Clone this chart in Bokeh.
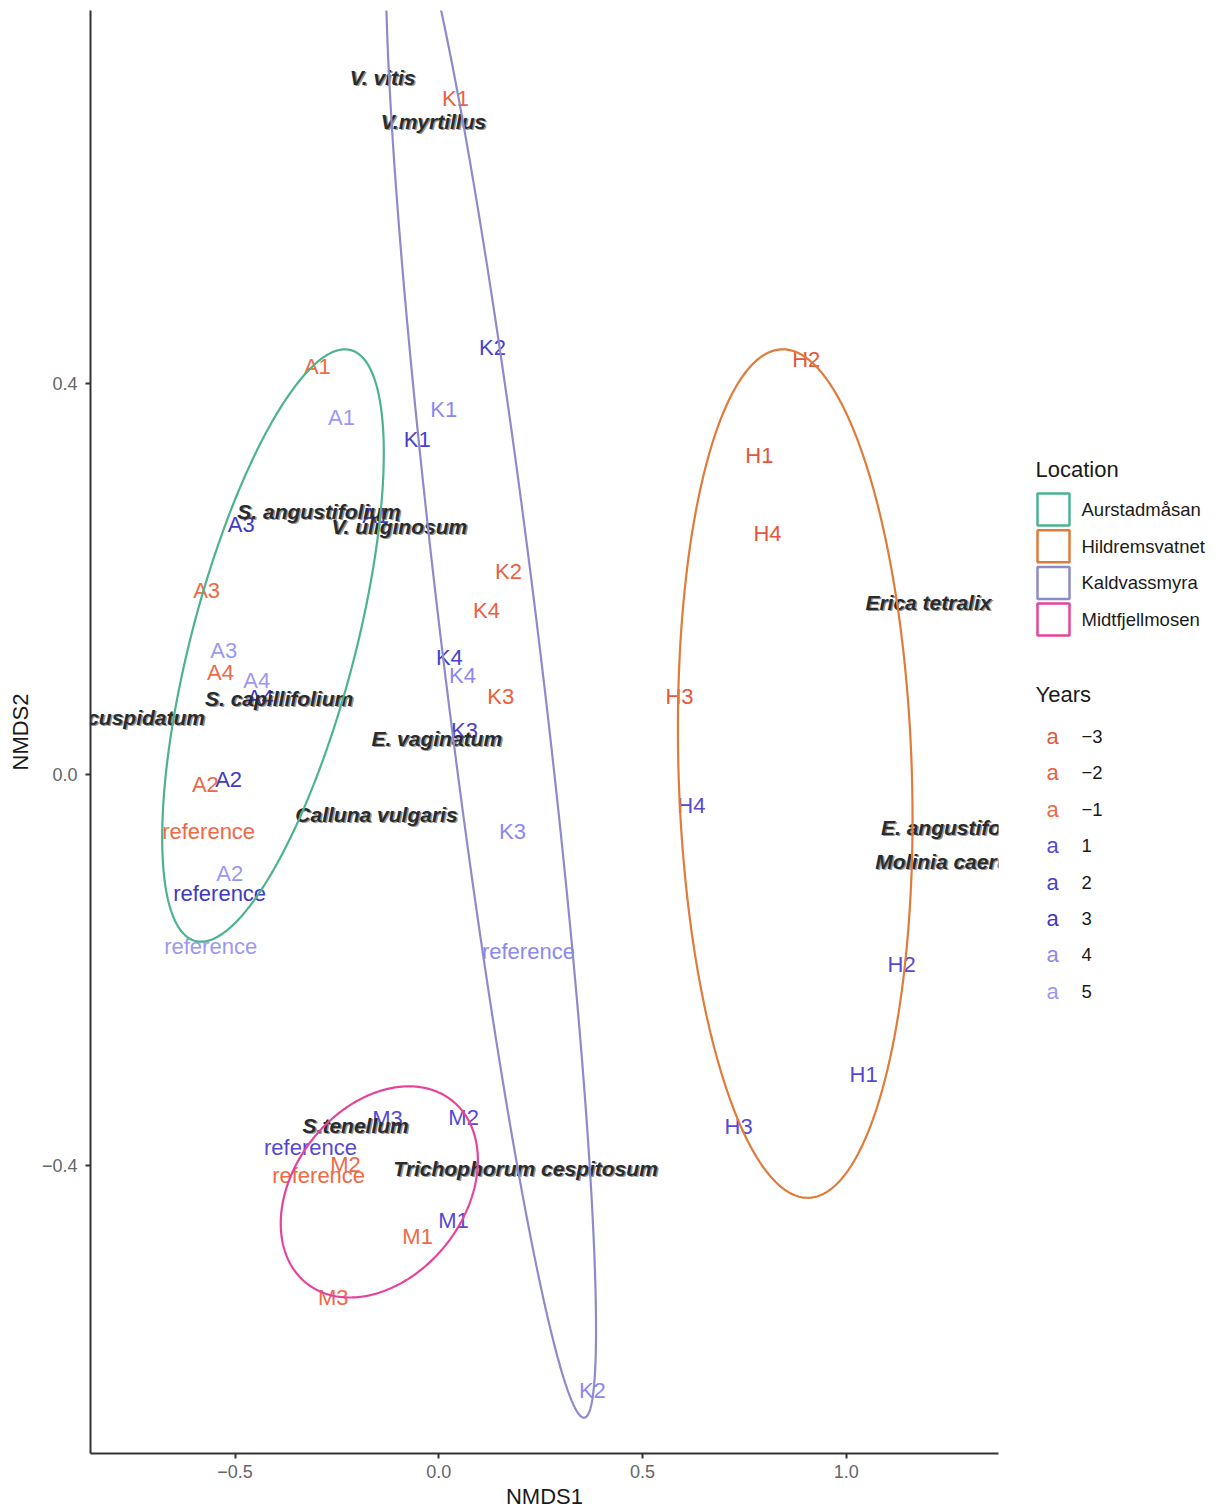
import numpy as np
from bokeh.plotting import figure
from bokeh.models import ColumnDataSource, FixedTicker, CustomJSTickFormatter, Range1d
from bokeh.layouts import row
from bokeh.core.properties import value
from bokeh.embed import file_html
from bokeh.resources import INLINE

FONT = "Liberation Sans"

# ---- site scores (NMDS1, NMDS2), labelled by plot, coloured by year ----
site_label = ["A1", "A1", "A1", "A3", "A3", "A3", "A4", "A4", "A4", "A2", "A2", "A2",
              "reference", "reference", "reference",
              "K1", "K1", "K1", "K2", "K2", "K2", "K4", "K4", "K4", "K3", "K3", "K3", "reference",
              "H2", "H1", "H4", "H3", "H4", "H2", "H1", "H3",
              "M2", "M3", "reference", "M2", "reference", "M1", "M1", "M3"]
site_year = [-1, 5, 3, 3, -1, 5, -1, 5, 3, -1, 3, 5, -1, 3, 5,
             -2, 4, 2, 2, -2, 4, -2, 2, 4, -2, 2, 4, 4,
             -3, -3, -3, -3, 1, 1, 1, 1,
             1, 1, 1, -1, -1, 1, -1, -1]
site_x = [-0.298, -0.239, -0.155, -0.485, -0.570, -0.528, -0.536, -0.447, -0.438, -0.573, -0.516, -0.513,
          -0.565, -0.538, -0.560,
          0.041, 0.012, -0.053, 0.132, 0.171, 0.377, 0.117, 0.026, 0.058, 0.152, 0.063, 0.181, 0.220,
          0.902, 0.787, 0.807, 0.591, 0.620, 1.136, 1.043, 0.736,
          0.061, -0.126, -0.315, -0.229, -0.295, 0.036, -0.052, -0.259]
site_y = [0.417, 0.365, 0.265, 0.256, 0.188, 0.127, 0.104, 0.096, 0.079, -0.010, -0.005, -0.101,
          -0.058, -0.122, -0.176,
          0.692, 0.373, 0.343, 0.437, 0.208, -0.630, 0.168, 0.120, 0.101, 0.080, 0.045, -0.058, -0.181,
          0.425, 0.326, 0.247, 0.080, -0.032, -0.194, -0.307, -0.360,
          -0.351, -0.352, -0.382, -0.399, -0.410, -0.456, -0.473, -0.535]

# ---- species scores ----
species_name = ["V. vitis", "V.myrtillus", "S. angustifolium", "V. uliginosum", "S. capillifolium",
                "S. cuspidatum", "E. vaginatum", "Calluna vulgaris", "Erica tetralix",
                "E. angustifolium", "Molinia caerulea", "S.tenellum", "Trichophorum cespitosum"]
species_x = [-0.138, -0.013, -0.294, -0.097, -0.392, -0.750, -0.005, -0.153, 1.202,
             1.286, 1.272, -0.204, 0.213]
species_y = [0.713, 0.668, 0.269, 0.254, 0.078, 0.058, 0.037, -0.041, 0.176,
             -0.054, -0.089, -0.359, -0.403]

# ---- locations and their confidence ellipses ----
locations = ["Aurstadmåsan", "Hildremsvatnet", "Kaldvassmyra", "Midtfjellmosen"]
location_colors = ["#4db38e", "#e07b39", "#8f8bcb", "#e6449a"]
ell_cx = [-0.407, 0.875, 0.128, -0.146]
ell_cy = [0.132, 0.001, 0.129, -0.427]
ell_rx = [0.272, 0.288, 0.258, 0.242]
ell_ry = [0.303, 0.434, 0.787, 0.108]
ell_rho = [0.649, -0.106, -0.885, 0.300]

# ---- years ----
years = [-3, -2, -1, 1, 2, 3, 4, 5]
year_labels = ["\u22123", "\u22122", "\u22121", "1", "2", "3", "4", "5"]
year_colors = ["#e8553b", "#ec5f3f", "#ee6a46", "#5549d6", "#4a3fcf", "#4238c6", "#8c88f2", "#9b98f5"]
year_color = dict(zip(years, year_colors))

TOP, FRAME_H, BOTTOM = 10, 1443, 57

# ================= main ordination panel =================
p = figure(frame_width=908, frame_height=FRAME_H,
           x_range=Range1d(-0.855, 1.374), y_range=Range1d(-0.6946, 0.7816),
           output_backend="svg", toolbar_location=None,
           min_border_left=90, min_border_right=22, min_border_top=TOP, min_border_bottom=BOTTOM)
p.xgrid.visible = False
p.ygrid.visible = False
p.outline_line_color = None
p.background_fill_color = "white"
p.border_fill_color = "white"

p.xaxis.ticker = FixedTicker(ticks=[-0.5, 0.0, 0.5, 1.0])
p.yaxis.ticker = FixedTicker(ticks=[-0.4, 0.0, 0.4])
fmt = CustomJSTickFormatter(code="return (tick < -1e-9 ? '\u2212' : '') + Math.abs(tick).toFixed(1);")
p.xaxis.formatter = fmt
p.yaxis.formatter = fmt
p.xaxis.axis_label = "NMDS1"
p.yaxis.axis_label = "NMDS2"
for ax in (p.xaxis, p.yaxis):
    ax.axis_label_text_font = FONT
    ax.axis_label_text_font_style = "normal"
    ax.axis_label_text_font_size = "22px"
    ax.axis_label_text_color = "#1a1a1a"
    ax.major_label_text_font = FONT
    ax.major_label_text_font_size = "18px"
    ax.major_label_text_color = "#666666"
    ax.axis_line_color = "#333333"
    ax.axis_line_width = 2
    ax.major_tick_line_color = "#333333"
    ax.major_tick_line_width = 2
    ax.major_tick_out = 5
    ax.major_tick_in = 0
    ax.minor_tick_line_color = None
p.xaxis.major_label_standoff = 6
p.xaxis.axis_label_standoff = 3
p.yaxis.major_label_standoff = 8
p.yaxis.axis_label_standoff = 6

# site labels
site_src = ColumnDataSource(dict(x=site_x, y=site_y, label=site_label,
                                 color=[year_color[y] for y in site_year]))
p.text(x="x", y="y", text="label", source=site_src, text_color="color",
       text_font=value(FONT), text_font_size="22px",
       text_align="center", text_baseline="middle")

# species labels (printed twice for the heavy look)
sp_src = ColumnDataSource(dict(x=species_x, y=species_y, name=species_name))
p.text(x="x", y="y", text="name", source=sp_src, text_color="#3a3a3a", text_alpha=0.55,
       text_font=value(FONT), text_font_size="21px", text_font_style="bold italic",
       text_align="center", text_baseline="middle", x_offset=1.5, y_offset=0.8)
p.text(x="x", y="y", text="name", source=sp_src, text_color="#2b2b2b",
       text_font=value(FONT), text_font_size="21px", text_font_style="bold italic",
       text_align="center", text_baseline="middle")

# confidence ellipses, one per location
t = np.linspace(0, 2 * np.pi, 500)
for cx, cy, rx, ry, rho, col in zip(ell_cx, ell_cy, ell_rx, ell_ry, ell_rho, location_colors):
    phi = np.arccos(rho)
    p.line(cx + rx * np.cos(t), cy + ry * np.cos(t - phi), line_color=col, line_width=2.2)

# ================= legend panel (page-pixel coordinates) =================
leg = figure(frame_width=199, frame_height=FRAME_H,
             x_range=Range1d(0, 199), y_range=Range1d(TOP + FRAME_H, TOP),
             output_backend="svg", toolbar_location=None,
             min_border_left=0, min_border_right=0, min_border_top=TOP, min_border_bottom=BOTTOM)
leg.axis.visible = False
leg.xgrid.visible = False
leg.ygrid.visible = False
leg.outline_line_color = None

loc_rows = [509 + 36.7 * i for i in range(len(locations))]
leg.text(x=[15], y=[469], text=["Location"], text_font=value(FONT), text_font_size="22px",
         text_color="#1a1a1a", text_baseline="middle")
leg.rect(x=[33] * len(locations), y=loc_rows, width=32, height=32, fill_color="white",
         line_color=location_colors, line_width=2.5)
leg.text(x=[61] * len(locations), y=loc_rows, text=locations, text_font=value(FONT),
         text_font_size="18.5px", text_color="#1a1a1a", text_baseline="middle")

yr_rows = [736 + 36.4 * i for i in range(len(years))]
leg.text(x=[15], y=[694], text=["Years"], text_font=value(FONT), text_font_size="22px",
         text_color="#1a1a1a", text_baseline="middle")
leg.text(x=[32] * len(years), y=yr_rows, text=["a"] * len(years), text_color=year_colors,
         text_font=value(FONT), text_font_size="22px", text_align="center", text_baseline="middle")
leg.text(x=[61] * len(years), y=yr_rows, text=year_labels, text_font=value(FONT),
         text_font_size="18.5px", text_color="#1a1a1a", text_baseline="middle")

layout = row(p, leg)
open("out.html", "w").write(file_html(layout, INLINE))
